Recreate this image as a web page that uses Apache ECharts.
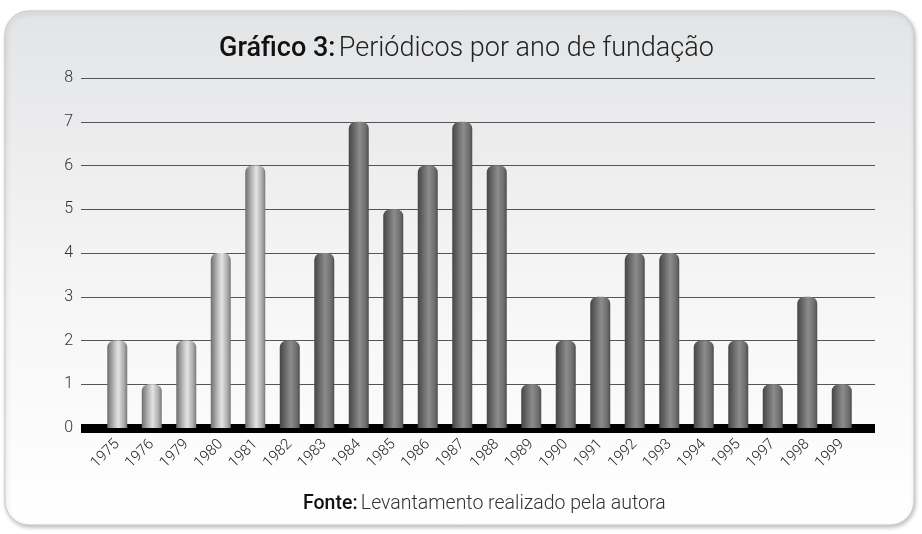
<!DOCTYPE html>
<html>
<head>
<meta charset="utf-8">
<script src="https://cdn.jsdelivr.net/npm/echarts@6/dist/echarts.min.js"></script>
<style>
  html, body { margin: 0; padding: 0; background: #fff; }
  #chart { width: 922px; height: 534px; }
</style>
</head>
<body>
<div id="chart"></div>
<script>
// data
const years = ['1975', '1976', '1979', '1980', '1981', '1982', '1983', '1984', '1985', '1986', '1987',
  '1988', '1989', '1990', '1991', '1992', '1993', '1994', '1995', '1997', '1998', '1999']
const counts = [2, 1, 2, 4, 6, 2, 4, 7, 5, 6, 7, 6, 1, 2, 3, 4, 4, 2, 2, 1, 3, 1]
const yTicks = [0, 1, 2, 3, 4, 5, 6, 7, 8]
const lightCount = 5 // first bars drawn silver

const font = 'Roboto, "Liberation Sans", sans-serif'

function cylinder(light) {
  const stops = light
    ? [['#6e6e6e', 0], ['#bdbdbd', 0.35], ['#e3e3e3', 0.55], ['#a8a8a8', 0.85], ['#777', 1]]
    : [['#454545', 0], ['#737373', 0.35], ['#8c8c8c', 0.55], ['#6d6d6d', 0.85], ['#4d4d4d', 1]]
  return new echarts.graphic.LinearGradient(0, 0, 1, 0,
    stops.map(s => ({ offset: s[1], color: s[0] })))
}

const chart = echarts.init(document.getElementById('chart'), null, { renderer: 'canvas' })

chart.setOption({
  animation: false,
  graphic: [
    {
      type: 'rect',
      z: -10,
      shape: { x: 5, y: 11, width: 909, height: 514, r: 24 },
      style: {
        fill: new echarts.graphic.LinearGradient(0, 0, 0, 1, [
          { offset: 0, color: '#e3e4e6' },
          { offset: 0.55, color: '#f6f6f6' },
          { offset: 1, color: '#ffffff' }
        ]),
        stroke: '#c8c8c8',
        lineWidth: 1,
        shadowColor: 'rgba(0,0,0,0.25)',
        shadowBlur: 4,
        shadowOffsetX: 1,
        shadowOffsetY: 2
      }
    },
    {
      type: 'text',
      left: 219,
      top: 36,
      style: {
        text: '{b|Gráfico 3:} {n|Periódicos por ano de fundação}',
        rich: {
          b: { fontFamily: font, fontSize: 27, fontWeight: 500, fill: '#111' },
          n: { fontFamily: font, fontSize: 27, fontWeight: 300, fill: '#222' }
        }
      }
    },
    {
      type: 'text',
      left: 303,
      top: 494,
      style: {
        text: '{b|Fonte:} {n|Levantamento realizado pela autora}',
        rich: {
          b: { fontFamily: font, fontSize: 19.5, fontWeight: 500, fill: '#111' },
          n: { fontFamily: font, fontSize: 19.5, fontWeight: 300, fill: '#333' }
        }
      }
    }
  ],
  grid: [
    { left: 81, right: 47, top: 78, bottom: 106 },
    { left: 100, right: 63, top: 78, bottom: 106 }
  ],
  xAxis: [
    {
      type: 'category',
      gridIndex: 0,
      data: years,
      axisLine: { show: true, lineStyle: { color: '#000', width: 9, cap: 'butt' } },
      axisTick: { show: false },
      axisLabel: { show: false },
      splitLine: { show: false }
    },
    {
      type: 'category',
      gridIndex: 1,
      data: years,
      axisLine: { show: false },
      axisTick: { show: false },
      axisLabel: {
        rotate: 45,
        margin: 14,
        color: '#222',
        fontFamily: font,
        fontSize: 15,
        fontWeight: 300
      }
    }
  ],
  yAxis: [
    {
      type: 'value',
      gridIndex: 0,
      min: 0,
      max: yTicks[yTicks.length - 1],
      interval: 1,
      axisLine: { show: false },
      axisTick: { show: false },
      axisLabel: {
        color: '#333',
        fontFamily: font,
        fontSize: 16,
        fontWeight: 300,
        margin: 8,
        padding: [0, 0, 8, 0],
        formatter: v => (yTicks.includes(v) ? String(v) : '')
      },
      splitLine: { lineStyle: { color: '#555', width: 1 } }
    },
    {
      type: 'value',
      gridIndex: 1,
      min: 0,
      max: yTicks[yTicks.length - 1],
      interval: 1,
      show: false
    }
  ],
  series: [
    {
      type: 'bar',
      xAxisIndex: 1,
      yAxisIndex: 1,
      barWidth: 20,
      z: 3,
      data: counts.map((v, i) => ({
        value: v,
        itemStyle: { color: cylinder(i < lightCount), borderRadius: [7, 7, 0, 0] }
      }))
    }
  ]
})
</script>
</body>
</html>
